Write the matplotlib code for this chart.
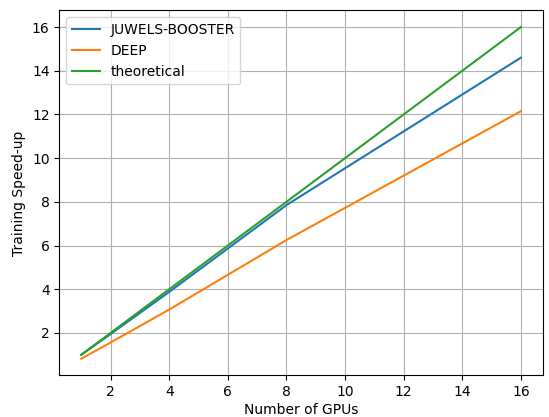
import matplotlib
matplotlib.use("Agg")
import matplotlib.pyplot as plt

gpus = [1, 2, 4, 8, 16]
juwels_booster = [1.0, 1.95, 3.88, 7.85, 14.6]
deep = [0.82, 1.56, 3.07, 6.25, 12.15]
theoretical = [1, 2, 4, 8, 16]

fig = plt.figure(figsize=(5.49, 4.17), dpi=100)
ax = fig.add_axes([0.108, 0.1, 0.881, 0.875])
ax.plot(gpus, juwels_booster, label="JUWELS-BOOSTER")
ax.plot(gpus, deep, label="DEEP")
ax.plot(gpus, theoretical, label="theoretical")
ax.set_xlabel("Number of GPUs", labelpad=3)
ax.set_ylabel("Training Speed-up")
ax.grid(True)
ax.legend(loc="upper left")
fig.savefig("out.png", dpi=100)
